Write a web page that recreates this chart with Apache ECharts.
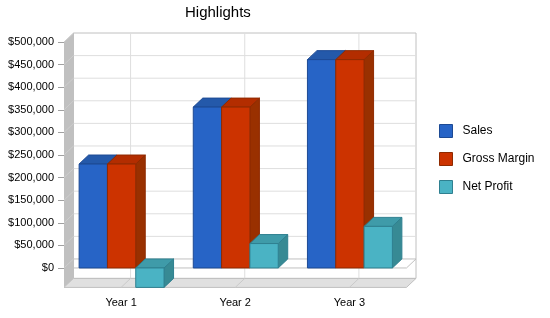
<!DOCTYPE html>
<html>
<head>
<meta charset="utf-8">
<script src="https://cdn.jsdelivr.net/npm/echarts@6/dist/echarts.min.js"></script>
<style>
  html, body { margin: 0; padding: 0; background: #fff; }
  #chart { width: 550px; height: 318px; }
</style>
</head>
<body>
<div id="chart"></div>
<script>
var categories = ['Year 1', 'Year 2', 'Year 3'];
var sales = [230000, 356000, 461000];
var grossMargin = [230000, 356000, 461000];
var netProfit = [-43000, 54000, 92000];
var yTicks = [0, 50000, 100000, 150000, 200000, 250000, 300000, 350000, 400000, 450000, 500000];
var yMin = -43000;
var yMax = 500000;

// depth of the fake 3d box (px)
var DX = 9.5, DY = -9;

var dom = document.getElementById('chart');
var myChart = echarts.init(dom);

function money(v) {
    return '$' + v.toString().replace(/\B(?=(\d{3})+(?!\d))/g, ',');
}

function frameItem(params, api) {
    var catW = api.size([1, 0])[0];
    var first = api.coord([0, 0]);
    var last = api.coord([categories.length - 1, 0]);
    var L = first[0] - catW / 2;
    var R = last[0] + catW / 2;
    var topY = api.coord([0, yMax])[1];
    var floorY = api.coord([0, yMin])[1];
    var zeroY = first[1];
    var kids = [];
    var grey = '#c0c0c0';

    // back wall
    kids.push({ type: 'rect', shape: { x: L + DX, y: topY + DY, width: R - L, height: floorY - topY },
        style: { fill: '#fff', stroke: grey, lineWidth: 1 } });
    // gridlines on back wall
    yTicks.forEach(function (t) {
        var y = api.coord([0, t])[1];
        if (t !== yMax) {
            kids.push({ type: 'line', shape: { x1: L + DX, y1: y + DY, x2: R + DX, y2: y + DY },
                style: { stroke: t === 0 ? grey : '#dedede', lineWidth: 1 } });
        }
    });
    categories.forEach(function (c, i) {
        var cx = api.coord([i, 0])[0];
        kids.push({ type: 'line', shape: { x1: cx + DX, y1: topY + DY, x2: cx + DX, y2: floorY + DY },
            style: { stroke: '#dedede', lineWidth: 1 } });
    });
    // left wall
    kids.push({ type: 'polygon', shape: { points: [[L, topY], [L + DX, topY + DY], [L + DX, floorY + DY], [L, floorY]] },
        style: { fill: grey } });
    yTicks.forEach(function (t) {
        var y = api.coord([0, t])[1];
        kids.push({ type: 'line', shape: { x1: L, y1: y, x2: L + DX, y2: y + DY },
            style: { stroke: '#cdcdcd', lineWidth: 1 } });
    });
    // floor
    kids.push({ type: 'polygon', shape: { points: [[L, floorY], [L + DX, floorY + DY], [R + DX, floorY + DY], [R, floorY]] },
        style: { fill: '#e0e0e0', stroke: grey, lineWidth: 1 } });
    categories.forEach(function (c, i) {
        var cx = api.coord([i, 0])[0];
        kids.push({ type: 'line', shape: { x1: cx, y1: floorY, x2: cx + DX, y2: floorY + DY },
            style: { stroke: '#cacaca', lineWidth: 1 } });
    });
    // zero plane edges
    kids.push({ type: 'polyline', shape: { points: [[L, zeroY], [R, zeroY], [R + DX, zeroY + DY]] },
        style: { stroke: grey, fill: null, lineWidth: 1 } });
    return { type: 'group', children: kids };
}

function barSeries(name, data, k, front, topC, side, border) {
    return {
        name: name,
        type: 'custom',
        itemStyle: { color: front, borderColor: border },
        data: data.map(function (v, i) { return [i, v]; }),
        encode: { x: 0, y: 1 },
        renderItem: function (params, api) {
            var ci = api.value(0), v = api.value(1);
            var base = api.coord([ci, 0]);
            var yv = api.coord([ci, v])[1];
            var catW = api.size([1, 0])[0];
            var bw = catW * 0.248;
            var x0 = base[0] + (k - 1.5) * bw + 0.5;
            var x1 = x0 + bw;
            var yTop = Math.min(yv, base[1]);
            var yBot = Math.max(yv, base[1]);
            var st = { stroke: border, lineWidth: 1 };
            return {
                type: 'group',
                children: [
                    { type: 'polygon', shape: { points: [[x1, yTop], [x1 + DX, yTop + DY], [x1 + DX, yBot + DY], [x1, yBot]] },
                      style: Object.assign({ fill: side }, st) },
                    { type: 'polygon', shape: { points: [[x0, yTop], [x0 + DX, yTop + DY], [x1 + DX, yTop + DY], [x1, yTop]] },
                      style: Object.assign({ fill: topC }, st) },
                    { type: 'rect', shape: { x: x0, y: yTop, width: bw, height: yBot - yTop },
                      style: Object.assign({ fill: front }, st) }
                ]
            };
        }
    };
}

var font = "'Liberation Sans', Arial, sans-serif";

var option = {
    animation: false,
    title: {
        text: 'Highlights',
        left: 180,
        top: 0,
        textStyle: { fontSize: 15, fontWeight: 'normal', color: '#000', fontFamily: font }
    },
    legend: {
        orient: 'vertical',
        left: 439,
        top: 124,
        padding: 0,
        itemWidth: 13,
        itemHeight: 13,
        itemGap: 14,
        icon: 'rect',
        textStyle: { fontSize: 12, color: '#000', fontFamily: font, padding: [0, 0, 0, 5] },
        data: [
            { name: 'Sales', itemStyle: { color: '#2764c6', borderColor: '#1d4a94', borderWidth: 1 } },
            { name: 'Gross Margin', itemStyle: { color: '#cc3300', borderColor: '#8f2a00', borderWidth: 1 } },
            { name: 'Net Profit', itemStyle: { color: '#4ab3c4', borderColor: '#2f8090', borderWidth: 1 } }
        ]
    },
    grid: { left: 64, right: 143.5, top: 42, bottom: 30.6, containLabel: false },
    xAxis: {
        type: 'category',
        data: categories,
        axisLine: { show: false },
        axisTick: { show: true, alignWithLabel: true, length: 5, lineStyle: { color: '#a0a0a0' } },
        axisLabel: { color: '#000', fontSize: 11, fontFamily: font, margin: 10 },
        splitLine: { show: false }
    },
    yAxis: {
        type: 'value',
        min: yMin,
        max: yMax,
        axisLine: { show: false },
        axisTick: { show: true, length: 6, customValues: yTicks, lineStyle: { color: '#a0a0a0' } },
        axisLabel: { color: '#000', fontSize: 11, fontFamily: font, margin: 10, customValues: yTicks,
            formatter: function (v) { return money(v); } },
        splitLine: { show: false }
    },
    series: [
        {
            type: 'custom',
            silent: true,
            data: [[0, 0]],
            encode: { x: 0, y: 1 },
            renderItem: frameItem
        },
        barSeries('Sales', sales, 0, '#2764c6', '#2459aa', '#1f4f9e', '#1d4a94'),
        barSeries('Gross Margin', grossMargin, 1, '#cc3300', '#b32d00', '#993000', '#8f2a00'),
        barSeries('Net Profit', netProfit, 2, '#4ab3c4', '#3f9ba9', '#378a94', '#2f8090')
    ]
};

if (option && typeof option === "object") {
    myChart.setOption(option, true);
}
</script>
</body>
</html>
